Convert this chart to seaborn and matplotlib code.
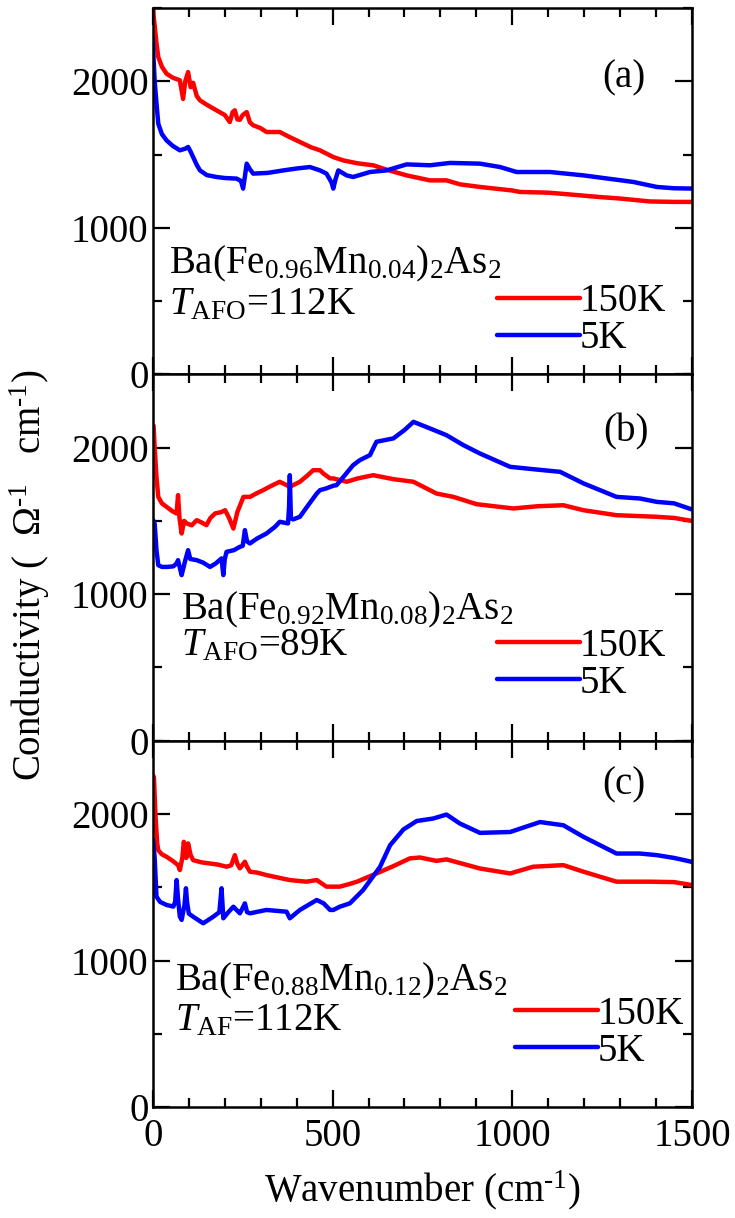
import matplotlib
matplotlib.use("Agg")
import matplotlib.pyplot as plt
from matplotlib.lines import Line2D
from matplotlib.ticker import MultipleLocator
import seaborn as sns

# ---- optical conductivity spectra, Ba(Fe1-xMnx)2As2 ----
# panel (a): x = 0.04
a_x_150 = [0, 2, 5, 10, 15, 25, 38, 55, 75, 84, 90, 98, 105, 112, 122, 131, 150, 177, 200, 214,
           222, 228, 235, 242, 250, 261, 270, 279, 300, 316, 353, 380, 409, 440, 465, 502, 530, 560,
           576, 613, 650, 706, 771, 817, 854, 910, 1000, 1021, 1100, 1150, 1244, 1300, 1383, 1450, 1500]
a_y_150 = [2560, 2450, 2380, 2260, 2166, 2100, 2052, 2025, 2007, 1880, 2000, 2063, 1960, 1990, 1900,
           1870, 1840, 1802, 1770, 1722, 1790, 1802, 1740, 1737, 1770, 1790, 1720, 1700, 1680, 1654,
           1654, 1620, 1586, 1550, 1529, 1483, 1460, 1445, 1438, 1427, 1397, 1358, 1324, 1324, 1297,
           1279, 1255, 1245, 1240, 1230, 1210, 1200, 1180, 1177, 1177]
a_x_5 = [0, 2, 5, 10, 15, 25, 38, 55, 75, 90, 98, 105, 112, 122, 131, 150, 177, 200, 233, 245, 251,
         256, 261, 270, 279, 320, 363, 400, 437, 465, 483, 497, 502, 508, 516, 539, 557, 604, 650, 706,
         771, 827, 910, 966, 1012, 1105, 1198, 1337, 1402, 1450, 1500]
a_y_5 = [2300, 2150, 2000, 1850, 1711, 1640, 1597, 1560, 1529, 1540, 1552, 1520, 1483, 1430, 1392,
         1360, 1347, 1340, 1336, 1320, 1268, 1350, 1438, 1400, 1370, 1375, 1392, 1405, 1415, 1392,
         1370, 1310, 1268, 1330, 1392, 1358, 1347, 1381, 1392, 1433, 1427, 1443, 1438, 1415, 1381,
         1381, 1358, 1313, 1279, 1270, 1268]

# panel (b): x = 0.08
b_x_150 = [2, 5, 10, 15, 25, 38, 55, 66, 70, 74, 80, 87, 94, 108, 122, 135, 149, 160, 173, 190, 201,
           212, 224, 235, 252, 270, 290, 307, 330, 353, 381, 409, 430, 446, 465, 474, 493, 502, 539,
           570, 613, 669, 725, 789, 836, 901, 1003, 1070, 1142, 1198, 1290, 1402, 1450, 1500]
b_y_150 = [2150, 2000, 1800, 1664, 1620, 1596, 1565, 1551, 1676, 1520, 1414, 1500, 1483, 1470, 1505,
           1490, 1471, 1520, 1551, 1560, 1573, 1520, 1448, 1560, 1664, 1664, 1690, 1710, 1740, 1767,
           1733, 1767, 1810, 1846, 1846, 1824, 1790, 1790, 1767, 1790, 1812, 1785, 1767, 1687, 1664,
           1614, 1585, 1600, 1607, 1573, 1539, 1528, 1520, 1500]
b_x_5 = [1, 5, 10, 15, 25, 40, 57, 66, 70, 75, 80, 90, 98, 104, 122, 140, 159, 175, 191, 196, 200,
         205, 225, 242, 250, 256, 262, 270, 290, 316, 340, 353, 376, 379, 381, 384, 390, 409, 430, 456,
         465, 480, 502, 511, 530, 557, 576, 604, 622, 669, 700, 725, 771, 817, 864, 910, 994, 1070,
         1133, 1198, 1290, 1355, 1402, 1450, 1500]
b_y_5 = [1505, 1480, 1300, 1198, 1186, 1186, 1190, 1210, 1232, 1180, 1130, 1230, 1300, 1240, 1232,
         1215, 1186, 1210, 1244, 1130, 1240, 1289, 1300, 1323, 1330, 1437, 1360, 1346, 1380, 1414,
         1460, 1494, 1483, 1600, 1812, 1520, 1510, 1528, 1600, 1687, 1710, 1720, 1740, 1744, 1800,
         1880, 1915, 1949, 2040, 2063, 2120, 2176, 2131, 2085, 2017, 1960, 1869, 1850, 1835, 1756,
         1664, 1653, 1630, 1620, 1578]

# panel (c): x = 0.12
c_x_150 = [1, 3, 7, 12, 15, 25, 38, 55, 70, 75, 82, 86, 89, 93, 98, 105, 112, 135, 159, 180, 205,
           218, 228, 235, 242, 256, 262, 270, 290, 316, 350, 381, 427, 456, 483, 520, 544, 567, 622,
           669, 715, 743, 789, 817, 910, 994, 1058, 1142, 1198, 1290, 1383, 1450, 1500]
c_y_150 = [2260, 2252, 2000, 1800, 1753, 1725, 1708, 1680, 1651, 1617, 1700, 1810, 1780, 1700, 1799,
           1720, 1685, 1670, 1662, 1655, 1640, 1650, 1719, 1660, 1629, 1674, 1640, 1606, 1600, 1583,
           1565, 1549, 1538, 1549, 1504, 1504, 1520, 1537, 1594, 1644, 1697, 1703, 1680, 1690, 1628,
           1594, 1640, 1651, 1606, 1538, 1538, 1535, 1515]
c_x_5 = [1, 5, 10, 20, 38, 57, 62, 66, 70, 75, 80, 88, 92, 95, 100, 112, 140, 168, 185, 191, 196,
         210, 224, 242, 250, 256, 262, 270, 316, 372, 381, 409, 456, 475, 493, 502, 520, 548, 585,
         632, 660, 697, 734, 780, 817, 854, 910, 994, 1077, 1142, 1198, 1290, 1355, 1402, 1450, 1500]
c_y_5 = [1821, 1700, 1436, 1400, 1379, 1368, 1400, 1549, 1420, 1300, 1277, 1380, 1493, 1400, 1320,
         1299, 1254, 1299, 1330, 1493, 1288, 1330, 1367, 1322, 1360, 1390, 1330, 1322, 1345, 1333,
         1288, 1345, 1413, 1390, 1345, 1345, 1367, 1390, 1481, 1639, 1787, 1894, 1952, 1969, 1996,
         1935, 1871, 1877, 1945, 1923, 1844, 1730, 1730, 1719, 1700, 1673]

temperatures = ["150K", "5K"]
panel_tags = ["(a)", "(b)", "(c)"]
compounds = [r"Ba(Fe$_{0.96}$Mn$_{0.04}$)$_2$As$_2$",
             r"Ba(Fe$_{0.92}$Mn$_{0.08}$)$_2$As$_2$",
             r"Ba(Fe$_{0.88}$Mn$_{0.12}$)$_2$As$_2$"]
transitions = [r"$T_{\mathrm{AFO}}$=112K", r"$T_{\mathrm{AFO}}$=89K", r"$T_{\mathrm{AF}}$=112K"]
y_ticks = [0, 1000, 2000]
x_ticks = [0, 500, 1000, 1500]

panels = [
    (a_x_150, a_y_150, a_x_5, a_y_5),
    (b_x_150, b_y_150, b_x_5, b_y_5),
    (c_x_150, c_y_150, c_x_5, c_y_5),
]

sns.set_style("ticks")
plt.rcParams["font.family"] = ["Liberation Serif", "DejaVu Serif"]
plt.rcParams["mathtext.fontset"] = "custom"
plt.rcParams["mathtext.rm"] = "Liberation Serif"
plt.rcParams["mathtext.it"] = "Liberation Serif:italic"
plt.rcParams["mathtext.bf"] = "Liberation Serif:bold"
plt.rcParams["text.color"] = "black"
plt.rcParams["axes.labelcolor"] = "black"
plt.rcParams["xtick.color"] = "black"
plt.rcParams["ytick.color"] = "black"

RED = "#ff0000"
BLUE = "#0000ff"
FS = 28
LW = 3.2

fig, axes = plt.subplots(3, 1, figsize=(7.35, 12.18), dpi=100, sharex=True)
fig.subplots_adjust(left=0.208, right=0.9415, bottom=0.0911, top=0.9934, hspace=0)

# per-panel placement (axes fractions)
tag_pos = [(0.874, 0.81), (0.877, 0.843), (0.874, 0.879)]
text_pos = [(0.030, 0.276, 0.164), (0.052, 0.332, 0.233), (0.041, 0.318, 0.210)]
legend_pos = [(0.638, 0.249), (0.638, 0.309), (0.672, 0.303)]

for i, (ax, (x150, y150, x5, y5)) in enumerate(zip(axes, panels)):
    sns.lineplot(x=x150, y=y150, ax=ax, color=RED, linewidth=LW, estimator=None, sort=False)
    sns.lineplot(x=x5, y=y5, ax=ax, color=BLUE, linewidth=LW, estimator=None, sort=False)
    ax.set_xlim(0, 1500)
    ax.set_ylim(0, 2500)
    ax.set_yticks(y_ticks)
    ax.set_yticklabels([str(t) for t in y_ticks])
    ax.yaxis.set_minor_locator(MultipleLocator(500))
    ax.xaxis.set_minor_locator(MultipleLocator(100))
    ax.set_xticks(x_ticks)
    ax.tick_params(which="both", direction="in", top=True, right=True, width=1.6, colors="black")
    ax.tick_params(which="major", length=12, labelsize=FS, pad=3)
    ax.tick_params(which="minor", length=6.5)
    ax.tick_params(axis="x", which="major", pad=8)
    for s in ax.spines.values():
        s.set_linewidth(1.8)
        s.set_color("black")
        s.set_visible(True)
    ax.set_xlabel("")
    ax.set_ylabel("")

    tx, ty = tag_pos[i]
    ax.text(tx, ty, panel_tags[i], transform=ax.transAxes, fontsize=FS, ha="center", va="center")
    px, py1, py2 = text_pos[i]
    ax.text(px, py1, compounds[i], transform=ax.transAxes, fontsize=FS, ha="left", va="baseline")
    ax.text(px, py2, transitions[i], transform=ax.transAxes, fontsize=FS, ha="left", va="baseline")

    handles = [Line2D([], [], color=RED, linewidth=LW), Line2D([], [], color=BLUE, linewidth=LW)]
    lx, ly = legend_pos[i]
    ax.legend(handles, temperatures, loc="upper left", bbox_to_anchor=(lx, ly), frameon=False,
              fontsize=FS, handlelength=2.13, handletextpad=0.0, labelspacing=0.0,
              borderpad=0.0, borderaxespad=0.0)

for ax in axes[:-1]:
    ax.tick_params(axis="x", labelbottom=False)

fig.text(0.574, 0.023, r"Wavenumber (cm$^{\text{-1}}$)", fontsize=FS, ha="center", va="center")
fig.text(0.041, 0.528, r"Conductivity (  $\Omega^{\text{-1}}$   cm$^{\text{-1}}$)",
         fontsize=28, ha="center", va="center", rotation=90)

fig.savefig("out.png", dpi=100)
